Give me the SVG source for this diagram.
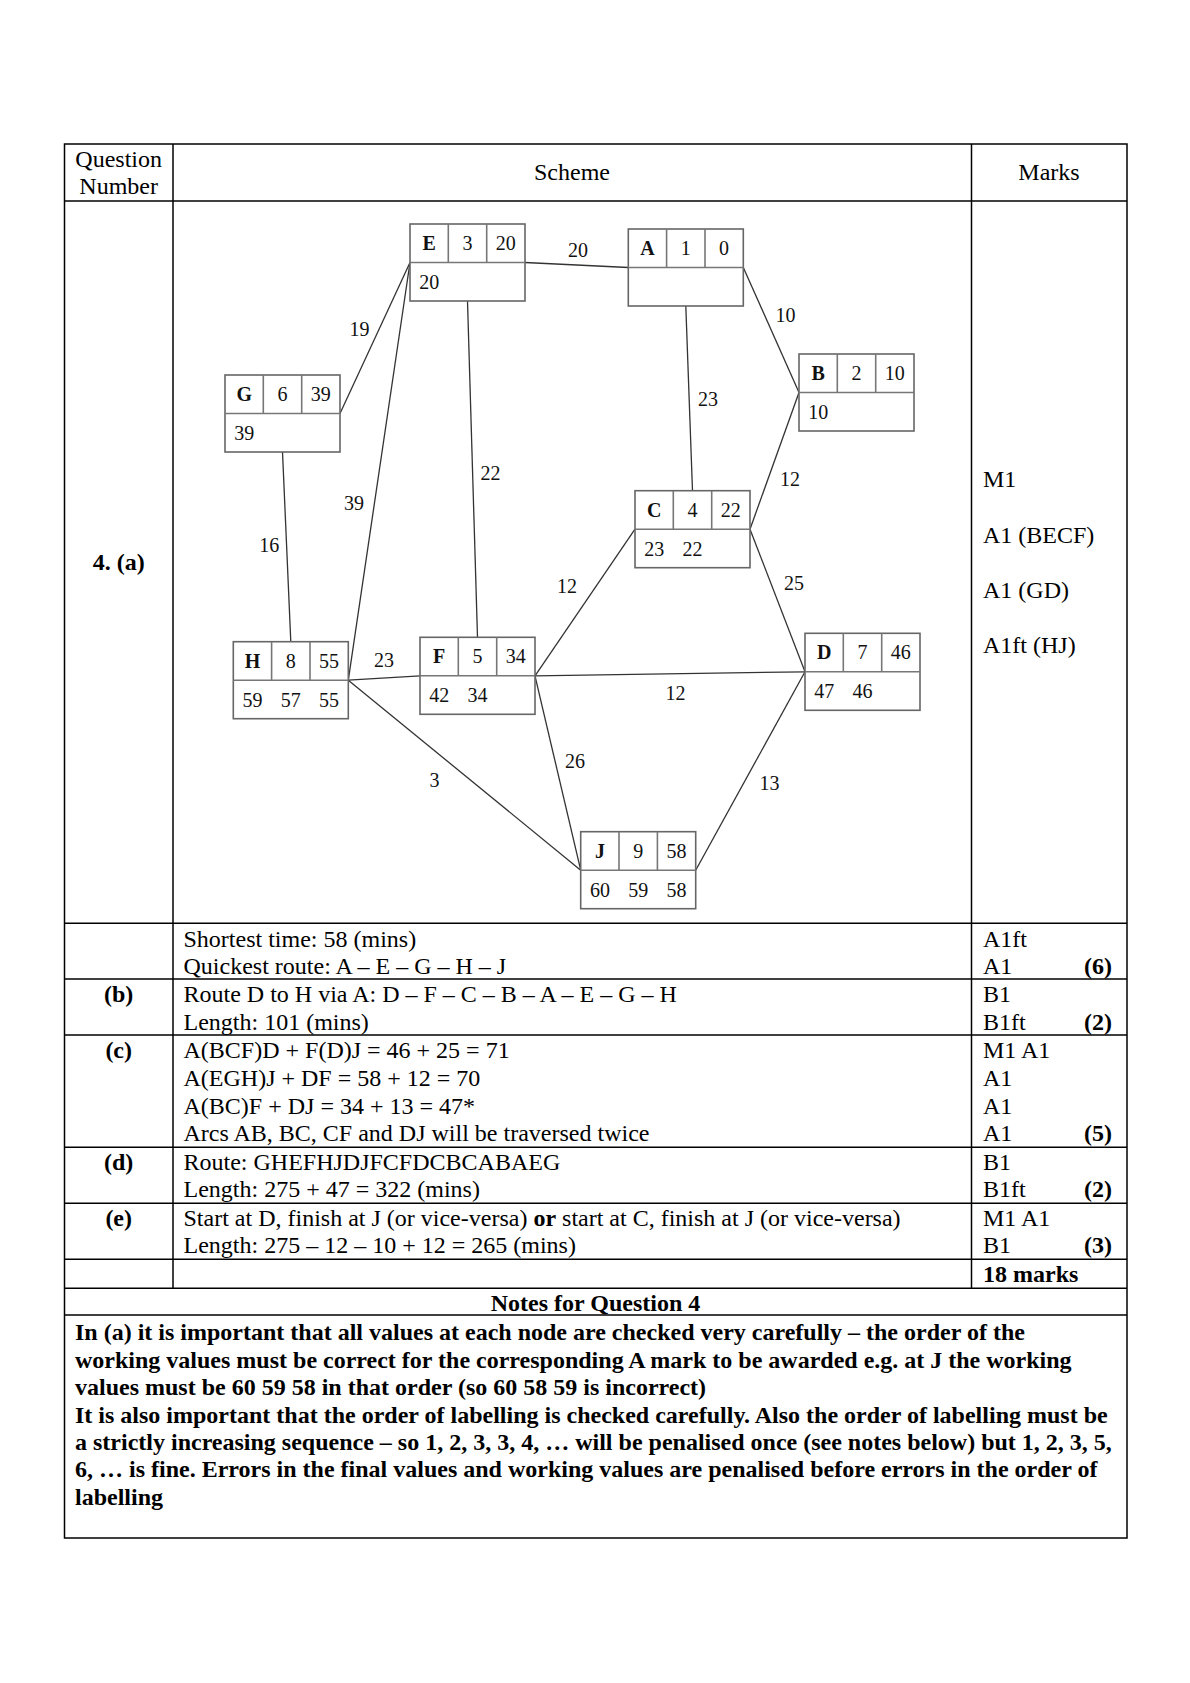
<svg xmlns="http://www.w3.org/2000/svg" xmlns:xlink="http://www.w3.org/1999/xlink" width="1190" height="1683" viewBox="0 0 1190 1683">
<style>
.t{font-family:"Liberation Serif","Times New Roman",serif;font-size:24px;fill:#000}
.b{font-weight:bold}
.m{text-anchor:middle}
.e{text-anchor:end}
.n{font-family:"Liberation Serif","Times New Roman",serif;font-size:20px;fill:#111;text-anchor:middle}
.box{fill:#fff;stroke:#666;stroke-width:1.6}
.dv{stroke:#777;stroke-width:1.6}
.edge{stroke:#333;stroke-width:1.3;fill:none}
.grid{stroke:#000;stroke-width:1.5;fill:none}
</style>
<defs>
<g id="nodebox">
<rect class="box" x="0" y="0" width="115" height="77"/>
<line class="dv" x1="0" y1="38.5" x2="115" y2="38.5"/>
<line class="dv" x1="38.3" y1="0" x2="38.3" y2="38.5"/>
<line class="dv" x1="76.7" y1="0" x2="76.7" y2="38.5"/>
</g>
</defs>
<rect width="1190" height="1683" fill="#fff"/>
<g id="table">
<rect class="grid" x="64.5" y="144" width="1062.5" height="1394"/>
<line class="grid" x1="64.5" y1="201" x2="1127" y2="201"/>
<line class="grid" x1="64.5" y1="923.3" x2="1127" y2="923.3"/>
<line class="grid" x1="64.5" y1="979" x2="1127" y2="979"/>
<line class="grid" x1="64.5" y1="1035" x2="1127" y2="1035"/>
<line class="grid" x1="64.5" y1="1147.3" x2="1127" y2="1147.3"/>
<line class="grid" x1="64.5" y1="1203.3" x2="1127" y2="1203.3"/>
<line class="grid" x1="64.5" y1="1259.3" x2="1127" y2="1259.3"/>
<line class="grid" x1="64.5" y1="1288.3" x2="1127" y2="1288.3"/>
<line class="grid" x1="64.5" y1="1315" x2="1127" y2="1315"/>
<line class="grid" x1="173" y1="144" x2="173" y2="1288.3"/>
<line class="grid" x1="971.5" y1="144" x2="971.5" y2="1288.3"/>
</g>
<g id="header">
<text class="t m" x="118.7" y="167">Question</text>
<text class="t m" x="118.7" y="194">Number</text>
<text class="t m" x="572" y="180">Scheme</text>
<text class="t m" x="1049" y="180">Marks</text>
</g>
<g id="connectors">
<line class="edge" x1="525" y1="262.5" x2="628.3" y2="267.5"/>
<line class="edge" x1="743.3" y1="267.5" x2="799" y2="392.5"/>
<line class="edge" x1="685.8" y1="306" x2="692.5" y2="490.7"/>
<line class="edge" x1="410" y1="262.5" x2="340" y2="413.5"/>
<line class="edge" x1="410" y1="262.5" x2="348.3" y2="680.2"/>
<line class="edge" x1="467.5" y1="301" x2="477.5" y2="637.3"/>
<line class="edge" x1="282.5" y1="452" x2="290.8" y2="641.7"/>
<line class="edge" x1="799" y1="392.5" x2="750" y2="529.2"/>
<line class="edge" x1="635" y1="529.2" x2="535" y2="675.8"/>
<line class="edge" x1="750" y1="529.2" x2="805" y2="671.8"/>
<line class="edge" x1="348.3" y1="680.2" x2="420" y2="675.8"/>
<line class="edge" x1="535" y1="675.8" x2="805" y2="671.8"/>
<line class="edge" x1="535" y1="675.8" x2="580.7" y2="870.2"/>
<line class="edge" x1="348.3" y1="680.2" x2="580.7" y2="870.2"/>
<line class="edge" x1="805" y1="671.8" x2="695.7" y2="870.2"/>
<text class="n" x="578" y="257">20</text>
<text class="n" x="785.5" y="322">10</text>
<text class="n" x="708" y="406">23</text>
<text class="n" x="359.5" y="336">19</text>
<text class="n" x="790" y="486">12</text>
<text class="n" x="490.5" y="480">22</text>
<text class="n" x="354" y="510">39</text>
<text class="n" x="269.3" y="552">16</text>
<text class="n" x="567" y="593">12</text>
<text class="n" x="794" y="590">25</text>
<text class="n" x="384" y="667">23</text>
<text class="n" x="675.5" y="700">12</text>
<text class="n" x="575" y="768">26</text>
<text class="n" x="434.5" y="787">3</text>
<text class="n" x="769.5" y="790">13</text>
</g>
<g id="node-E" transform="translate(410,224)">
<use xlink:href="#nodebox" href="#nodebox"/>
<text class="n b" x="19.2" y="26">E</text><text class="n" x="57.5" y="26">3</text><text class="n" x="95.8" y="26">20</text>
<text class="n" x="19.2" y="65">20</text>
</g>
<g id="node-A" transform="translate(628.3,229)">
<use xlink:href="#nodebox" href="#nodebox"/>
<text class="n b" x="19.2" y="26">A</text><text class="n" x="57.5" y="26">1</text><text class="n" x="95.8" y="26">0</text>
</g>
<g id="node-B" transform="translate(799,354)">
<use xlink:href="#nodebox" href="#nodebox"/>
<text class="n b" x="19.2" y="26">B</text><text class="n" x="57.5" y="26">2</text><text class="n" x="95.8" y="26">10</text>
<text class="n" x="19.2" y="65">10</text>
</g>
<g id="node-G" transform="translate(225,375)">
<use xlink:href="#nodebox" href="#nodebox"/>
<text class="n b" x="19.2" y="26">G</text><text class="n" x="57.5" y="26">6</text><text class="n" x="95.8" y="26">39</text>
<text class="n" x="19.2" y="65">39</text>
</g>
<g id="node-C" transform="translate(635,490.7)">
<use xlink:href="#nodebox" href="#nodebox"/>
<text class="n b" x="19.2" y="26">C</text><text class="n" x="57.5" y="26">4</text><text class="n" x="95.8" y="26">22</text>
<text class="n" x="19.2" y="65">23</text><text class="n" x="57.5" y="65">22</text>
</g>
<g id="node-H" transform="translate(233.3,641.7)">
<use xlink:href="#nodebox" href="#nodebox"/>
<text class="n b" x="19.2" y="26">H</text><text class="n" x="57.5" y="26">8</text><text class="n" x="95.8" y="26">55</text>
<text class="n" x="19.2" y="65">59</text><text class="n" x="57.5" y="65">57</text><text class="n" x="95.8" y="65">55</text>
</g>
<g id="node-F" transform="translate(420,637.3)">
<use xlink:href="#nodebox" href="#nodebox"/>
<text class="n b" x="19.2" y="26">F</text><text class="n" x="57.5" y="26">5</text><text class="n" x="95.8" y="26">34</text>
<text class="n" x="19.2" y="65">42</text><text class="n" x="57.5" y="65">34</text>
</g>
<g id="node-D" transform="translate(805,633.3)">
<use xlink:href="#nodebox" href="#nodebox"/>
<text class="n b" x="19.2" y="26">D</text><text class="n" x="57.5" y="26">7</text><text class="n" x="95.8" y="26">46</text>
<text class="n" x="19.2" y="65">47</text><text class="n" x="57.5" y="65">46</text>
</g>
<g id="node-J" transform="translate(580.7,831.7)">
<use xlink:href="#nodebox" href="#nodebox"/>
<text class="n b" x="19.2" y="26">J</text><text class="n" x="57.5" y="26">9</text><text class="n" x="95.8" y="26">58</text>
<text class="n" x="19.2" y="65">60</text><text class="n" x="57.5" y="65">59</text><text class="n" x="95.8" y="65">58</text>
</g>
<g id="col-question">
<text class="t b m" x="118.7" y="570">4. (a)</text>
<text class="t b m" x="118.7" y="1002.3">(b)</text>
<text class="t b m" x="118.7" y="1058">(c)</text>
<text class="t b m" x="118.7" y="1170">(d)</text>
<text class="t b m" x="118.7" y="1226">(e)</text>
</g>
<g id="col-scheme">
<text class="t" x="183.5" y="946.8">Shortest time: 58 (mins)</text>
<text class="t" x="183.5" y="974.4">Quickest route: A – E – G – H – J</text>
<text class="t" x="183.5" y="1002.3">Route D to H via A: D – F – C – B – A – E – G – H</text>
<text class="t" x="183.5" y="1030">Length: 101 (mins)</text>
<text class="t" x="183.5" y="1058">A(BCF)D + F(D)J = 46 + 25 = 71</text>
<text class="t" x="183.5" y="1085.8">A(EGH)J + DF = 58 + 12 = 70</text>
<text class="t" x="183.5" y="1113.5">A(BC)F + DJ = 34 + 13 = 47*</text>
<text class="t" x="183.5" y="1141.2">Arcs AB, BC, CF and DJ will be traversed twice</text>
<text class="t" x="183.5" y="1170">Route: GHEFHJDJFCFDCBCABAEG</text>
<text class="t" x="183.5" y="1197">Length: 275 + 47 = 322 (mins)</text>
<text class="t" x="183.5" y="1226">Start at D, finish at J (or vice-versa) <tspan class="b">or</tspan> start at C, finish at J (or vice-versa)</text>
<text class="t" x="183.5" y="1253">Length: 275 – 12 – 10 + 12 = 265 (mins)</text>
</g>
<g id="col-marks">
<text class="t" x="983" y="486.7">M1</text>
<text class="t" x="983" y="543">A1 (BECF)</text>
<text class="t" x="983" y="598">A1 (GD)</text>
<text class="t" x="983" y="653">A1ft (HJ)</text>
<text class="t" x="983" y="946.8">A1ft</text>
<text class="t" x="983" y="974.4">A1</text>
<text class="t b e" x="1112" y="974.4">(6)</text>
<text class="t" x="983" y="1002.3">B1</text>
<text class="t" x="983" y="1030">B1ft</text>
<text class="t b e" x="1112" y="1030">(2)</text>
<text class="t" x="983" y="1058">M1 A1</text>
<text class="t" x="983" y="1085.8">A1</text>
<text class="t" x="983" y="1113.5">A1</text>
<text class="t" x="983" y="1141.2">A1</text>
<text class="t b e" x="1112" y="1141.2">(5)</text>
<text class="t" x="983" y="1170">B1</text>
<text class="t" x="983" y="1197">B1ft</text>
<text class="t b e" x="1112" y="1197">(2)</text>
<text class="t" x="983" y="1226">M1 A1</text>
<text class="t" x="983" y="1253">B1</text>
<text class="t b e" x="1112" y="1253">(3)</text>
<text class="t b" x="983" y="1282">18 marks</text>
</g>
<g id="notes">
<text class="t b m" x="595.5" y="1310.5">Notes for Question 4</text>
<text class="t b" x="75" y="1340">In (a) it is important that all values at each node are checked very carefully – the order of the</text>
<text class="t b" x="75" y="1367.5">working values must be correct for the corresponding A mark to be awarded e.g. at J the working</text>
<text class="t b" x="75" y="1395">values must be 60 59 58 in that order (so 60 58 59 is incorrect)</text>
<text class="t b" x="75" y="1422.5">It is also important that the order of labelling is checked carefully. Also the order of labelling must be</text>
<text class="t b" x="75" y="1450">a strictly increasing sequence – so 1, 2, 3, 3, 4, … will be penalised once (see notes below) but 1, 2, 3, 5,</text>
<text class="t b" x="75" y="1477">6, … is fine. Errors in the final values and working values are penalised before errors in the order of</text>
<text class="t b" x="75" y="1504.5">labelling</text>
</g>
</svg>
